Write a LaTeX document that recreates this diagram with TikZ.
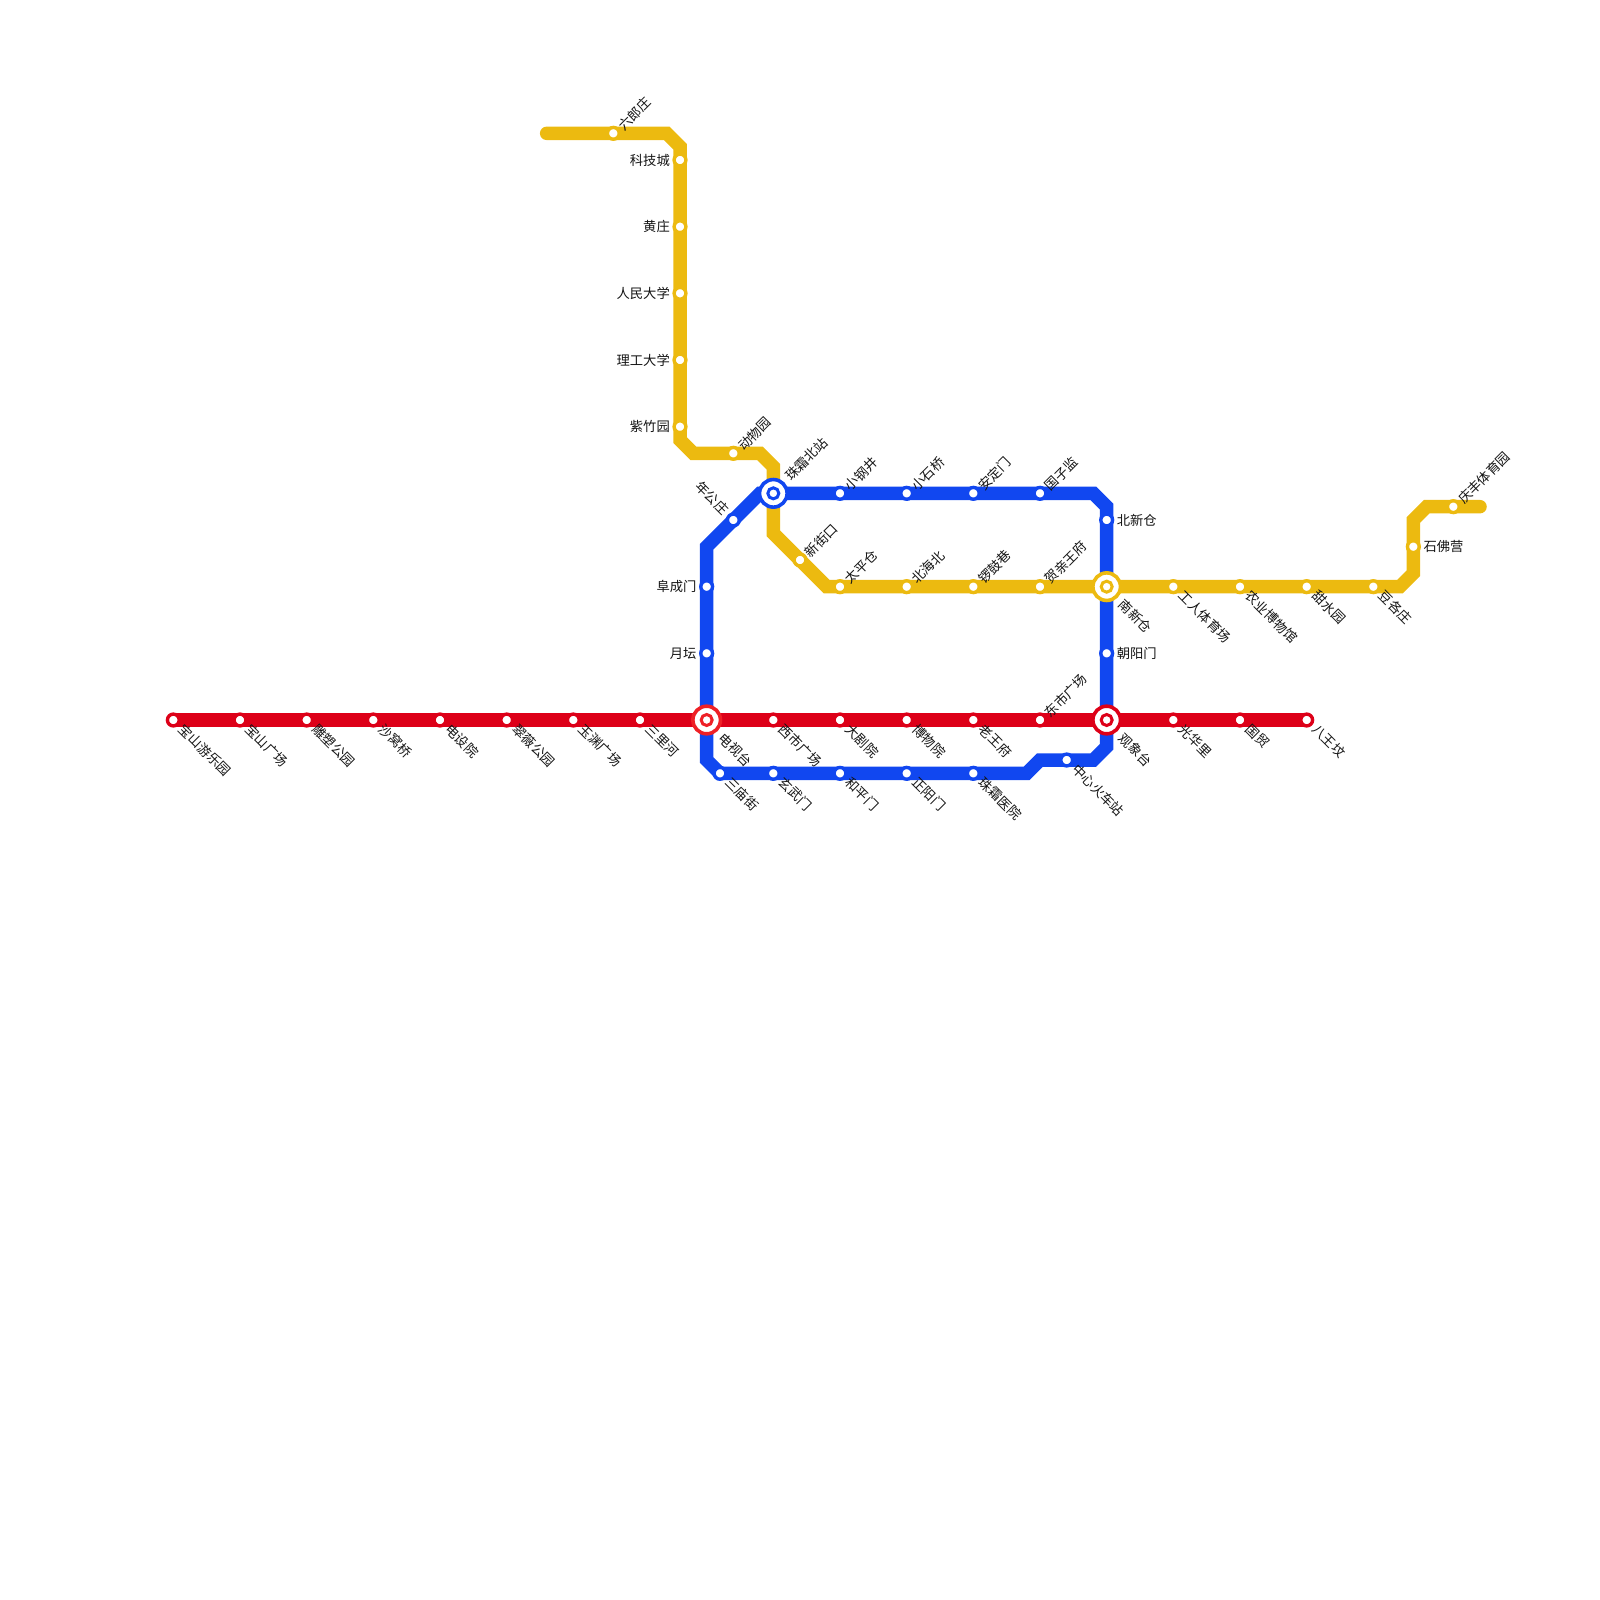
\documentclass[tikz,border=0pt]{standalone}
\usepackage{fontspec}
\setmainfont{Noto Sans CJK SC}
\usetikzlibrary{backgrounds}
\definecolor{lineyellow}{RGB}{236,186,16}
\definecolor{lineblue}{RGB}{17,71,240}
\definecolor{linered}{RGB}{221,0,24}
\definecolor{ringred}{RGB}{238,32,38}
\tikzset{
  stationmark/.style={circle,fill=white,draw=#1,line width=3.4pt,minimum size=11.8pt,inner sep=0pt},
  hubring/.style={circle,fill=white,draw=#1,line width=3.6pt,minimum size=27.6pt,inner sep=0pt},
  hubdot/.style={circle,fill=white,draw=#1,line width=3pt,minimum size=11pt,inner sep=0pt},
  metroline/.style={line width=13.5pt,line join=miter,#1},
  stationtext/.style={font=\fontsize{13.3pt}{14pt}\selectfont,inner sep=0pt,text=black!92},
  labelup/.style={stationtext,xshift=7pt,yshift=5.3pt,anchor=west,rotate=45},
  labeldown/.style={stationtext,xshift=8pt,yshift=-6.5pt,anchor=west,rotate=-45},
  labelleft/.style={stationtext,anchor=east,xshift=-10pt},
  labelright/.style={stationtext,anchor=west,xshift=10pt},
  labelback/.style={stationtext,xshift=-7pt,yshift=8pt,anchor=east,rotate=-45},
  hubup/.style={stationtext,xshift=14pt,yshift=15pt,anchor=west,rotate=45},
  hubdown/.style={stationtext,xshift=14.5pt,yshift=-15.5pt,anchor=west,rotate=-45},
}
\begin{document}
\begin{tikzpicture}[x=1pt,y=-1pt]
\useasboundingbox (0,0) rectangle (1600,1600);
% Red line
\foreach \n/\x/\t in {r1/173.33/宝山游乐园,r2/240/宝山广场,r3/306.67/雕塑公园,r4/373.33/沙窝桥,
    r5/440/电设院,r6/506.67/翠薇公园,r7/573.33/玉渊广场,r8/640/三里河,r9/773.33/西市广场,
    r10/840/大剧院,r11/906.67/博物院,r12/973.33/老王府,r14/1173.33/光华里,r15/1240/国贸,r16/1306.67/八王坟}{
  \node[stationmark=linered] (\n) at (\x,720) {};
  \node[labeldown] (\n t) at (\n) {\t};
}
\node[stationmark=linered] (r13) at (1040,720) {};
\node[labelup] (r13t) at (r13) {东市广场};
% Blue line
\foreach \n/\x/\t in {b1/840/小钢井,b2/906.67/小石桥,b3/973.33/安定门,b4/1040/国子监}{
  \node[stationmark=lineblue] (\n) at (\x,493.33) {};
  \node[labelup] (\n t) at (\n) {\t};
}
\foreach \n/\x/\y/\t in {b5/720/773.33/三庙街,b6/773.33/773.33/玄武门,b7/840/773.33/和平门,
    b8/906.67/773.33/正阳门,b9/973.33/773.33/珠霜医院,b10/1066.67/760/中心火车站}{
  \node[stationmark=lineblue] (\n) at (\x,\y) {};
  \node[labeldown] (\n t) at (\n) {\t};
}
\node[stationmark=lineblue] (b11) at (1106.67,520) {};
\node[labelright] (b11t) at (b11) {北新仓};
\node[stationmark=lineblue] (b12) at (1106.67,653.33) {};
\node[labelright] (b12t) at (b12) {朝阳门};
\node[stationmark=lineblue] (b13) at (706.67,586.67) {};
\node[labelleft] (b13t) at (b13) {阜成门};
\node[stationmark=lineblue] (b14) at (706.67,653.33) {};
\node[labelleft] (b14t) at (b14) {月坛};
\node[stationmark=lineblue] (b15) at (733.33,520) {};
\node[labelback] (b15t) at (b15) {年公庄};
% Yellow line
\foreach \n/\y/\t in {y2/160/科技城,y3/226.67/黄庄,y4/293.33/人民大学,y5/360/理工大学,y6/426.67/紫竹园}{
  \node[stationmark=lineyellow] (\n) at (680,\y) {};
  \node[labelleft] (\n t) at (\n) {\t};
}
\foreach \n/\x/\y/\t in {y1/613.33/133.33/六郎庄,y7/733.33/453.33/动物园,y8/800/560/新街口,
    y9/840/586.67/太平仓,y10/906.67/586.67/北海北,y11/973.33/586.67/锣鼓巷,y12/1040/586.67/贺亲王府,
    y18/1453.33/506.67/庆丰体育园}{
  \node[stationmark=lineyellow] (\n) at (\x,\y) {};
  \node[labelup] (\n t) at (\n) {\t};
}
\foreach \n/\x/\t in {y13/1173.33/工人体育场,y14/1240/农业博物馆,y15/1306.67/甜水园,y16/1373.33/豆各庄}{
  \node[stationmark=lineyellow] (\n) at (\x,586.67) {};
  \node[labeldown] (\n t) at (\n) {\t};
}
\node[stationmark=lineyellow] (y17) at (1413.33,546.67) {};
\node[labelright] (y17t) at (y17) {石佛营};
% Transfer stations
\node[hubring=ringred] (dianshi) at (706.67,720) {};
\node[hubdot=ringred] (dianshid) at (dianshi) {};
\node[hubdown] (dianshit) at (dianshi) {电视台};
\node[hubring=linered] (guanxiang) at (1106.67,720) {};
\node[hubdot=linered] (guanxiangd) at (guanxiang) {};
\node[hubdown] (guanxiangt) at (guanxiang) {观象台};
\node[hubring=lineblue] (zhushuang) at (773.33,493.33) {};
\node[hubdot=lineblue] (zhushuangd) at (zhushuang) {};
\node[hubup] (zhushuangt) at (zhushuang) {珠霜北站};
\node[hubring=lineyellow] (nanxin) at (1106.67,586.67) {};
\node[hubdot=lineyellow] (nanxind) at (nanxin) {};
\node[hubdown] (nanxint) at (nanxin) {南新仓};
% Bends
\coordinate (ya) at (546.67,133.33);
\coordinate (yb) at (666.67,133.33);
\coordinate (yc) at (680,146.67);
\coordinate (yd) at (680,440);
\coordinate (ye) at (693.33,453.33);
\coordinate (yf) at (760,453.33);
\coordinate (yg) at (773.33,466.67);
\coordinate (yh) at (773.33,533.33);
\coordinate (yi) at (826.67,586.67);
\coordinate (yj) at (1400,586.67);
\coordinate (yk) at (1413.33,573.33);
\coordinate (yl) at (1413.33,520);
\coordinate (ym) at (1426.67,506.67);
\coordinate (yn) at (1480,506.67);
\coordinate (ba) at (760,493.33);
\coordinate (bb) at (706.67,546.67);
\coordinate (bc) at (706.67,760);
\coordinate (bd) at (1026.67,773.33);
\coordinate (be) at (1040,760);
\coordinate (bf) at (1093.33,760);
\coordinate (bg) at (1106.67,746.67);
\coordinate (bh) at (1106.67,506.67);
\coordinate (bi) at (1093.33,493.33);
\begin{scope}[on background layer]
  \draw[metroline=lineyellow,line cap=round] (ya) -- (yb) -- (yc) -- (yd) -- (ye) -- (yf) -- (yg)
    -- (yh) -- (yi) -- (yj) -- (yk) -- (yl) -- (ym) -- (yn);
  \draw[metroline=lineblue] (ba) -- (bb) -- (bc) -- (b5.center) -- (bd) -- (be) -- (bf) -- (bg)
    -- (bh) -- (bi) -- cycle;
  \draw[metroline=linered] (r1.center) -- (r16.center);
\end{scope}
\end{tikzpicture}
\end{document}
